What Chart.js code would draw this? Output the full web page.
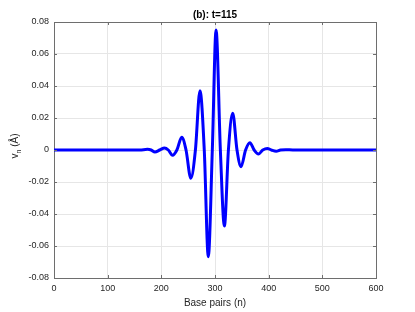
<!DOCTYPE html>
<html><head><meta charset="utf-8">
<script src="https://cdn.jsdelivr.net/npm/chart.js@4/dist/chart.umd.min.js"></script>
<style>html,body{margin:0;padding:0;background:#fff;}canvas{display:block}</style>
</head><body>
<canvas id="c" width="415" height="312" style="width:415px;height:312px"></canvas>
<script>
// Data
const basePairs = [0,150,160,174,181,188,197,206,213,221,229,238,246,255,263.5,272,280,287.5,295,302,310,317.5,325,333,341,348.5,357,365,373,381,389,397.5,405,414,422,432,445,600];
const displacement = [0,0,0,0.0004,0,-0.0013,0,0.0013,0,-0.0033,0,0.0079,0,-0.0177,0,0.0371,0,-0.0667,0,0.075,0,-0.0475,0,0.0229,0,-0.0104,0,0.0046,0,-0.0025,0,0.001,0,-0.0008,0,0.0002,0,0];
const xTicks = [0,100,200,300,400,500,600];
const xTickLabels = ['0','100','200','300','400','500','600'];
const yTicks = [-0.08,-0.06,-0.04,-0.02,0,0.02,0.04,0.06,0.08];
const yTickLabels = ['-0.08','-0.06','-0.04','-0.02','0','0.02','0.04','0.06','0.08'];
const titleText = '(b): t=115';
const xTitle = 'Base pairs (n)';
const yTitleMain = 'v';
const yTitleSub = 'n';
const yTitleRest = ' (\u00C5)';

const FONT = '"Liberation Sans", Arial, Helvetica, sans-serif';
const AX = '#262626';
const AXLINE = '#6e6e6e';

const decor = {
  id: 'decor',
  afterDraw(chart) {
    const c = chart.ctx, a = chart.chartArea;
    const xs = chart.scales.x, ys = chart.scales.y;
    c.save();
    // box top/right
    c.strokeStyle = AXLINE; c.lineWidth = 1;
    c.beginPath();
    c.moveTo(a.left, a.top + 0.5); c.lineTo(a.right + 0.5, a.top + 0.5);
    c.moveTo(a.right + 0.5, a.top); c.lineTo(a.right + 0.5, a.bottom);
    c.stroke();
    // inward ticks
    const tl = 3;
    c.beginPath();
    xTicks.forEach(v => {
      const px = Math.round(xs.getPixelForValue(v)) + 0.5;
      c.moveTo(px, a.bottom); c.lineTo(px, a.bottom - tl);
      c.moveTo(px, a.top); c.lineTo(px, a.top + tl);
    });
    yTicks.forEach(v => {
      const py = Math.round(ys.getPixelForValue(v)) + 0.5;
      c.moveTo(a.left, py); c.lineTo(a.left + tl, py);
      c.moveTo(a.right, py); c.lineTo(a.right - tl, py);
    });
    c.stroke();
    // title
    c.fillStyle = '#000';
    c.font = 'bold 10px ' + FONT;
    c.textAlign = 'center'; c.textBaseline = 'middle';
    c.fillText(titleText, (a.left + a.right) / 2, 15);
    // x title
    c.fillStyle = AX;
    c.font = '10px ' + FONT;
    c.fillText(xTitle, (a.left + a.right) / 2, 303);
    // y title rotated
    c.translate(18, 146);
    c.rotate(-Math.PI / 2);
    c.textAlign = 'left'; c.textBaseline = 'alphabetic';
    c.font = '10px ' + FONT;
    const w1 = c.measureText(yTitleMain).width;
    const w3 = c.measureText(yTitleRest).width;
    c.font = '7px ' + FONT;
    const w2 = c.measureText(yTitleSub).width;
    let x0 = -(w1 + w2 + w3) / 2;
    c.font = '10px ' + FONT;
    c.fillText(yTitleMain, x0, 0);
    c.font = '7px ' + FONT;
    c.fillText(yTitleSub, x0 + w1, 2.5);
    c.font = '10px ' + FONT;
    c.fillText(yTitleRest, x0 + w1 + w2, 0);
    c.restore();
  }
};

new Chart(document.getElementById('c').getContext('2d'), {
  type: 'line',
  data: {
    datasets: [{
      data: basePairs.map((n, i) => ({ x: n, y: displacement[i] })),
      borderColor: '#0000ff',
      borderWidth: 3,
      pointRadius: 0,
      cubicInterpolationMode: 'monotone',
      fill: false
    }]
  },
  options: {
    responsive: false,
    animation: false,
    devicePixelRatio: 1,
    layout: { padding: { top: 22, right: 39, left: 0, bottom: 0 } },
    plugins: { legend: { display: false }, tooltip: { enabled: false }, title: { display: false } },
    scales: {
      x: {
        type: 'linear', min: 0, max: 600,
        afterBuildTicks: s => { s.ticks = xTicks.map(v => ({ value: v })); },
        afterFit: s => { s.height = 34; },
        ticks: { font: { family: FONT, size: 9 }, color: AX, padding: 5, maxRotation: 0, autoSkip: false,
                 callback: (v, i) => xTickLabels[i] },
        grid: { color: '#e6e6e6', drawTicks: false },
        border: { color: AXLINE, width: 1 }
      },
      y: {
        type: 'linear', min: -0.08, max: 0.08,
        afterBuildTicks: s => { s.ticks = yTicks.map(v => ({ value: v })); },
        afterFit: s => { s.width = 54; },
        ticks: { font: { family: FONT, size: 9 }, color: AX, padding: 5, autoSkip: false,
                 callback: (v, i) => yTickLabels[i] },
        grid: { color: '#e6e6e6', drawTicks: false },
        border: { color: AXLINE, width: 1 }
      }
    }
  },
  plugins: [decor]
});
</script>
</body></html>
